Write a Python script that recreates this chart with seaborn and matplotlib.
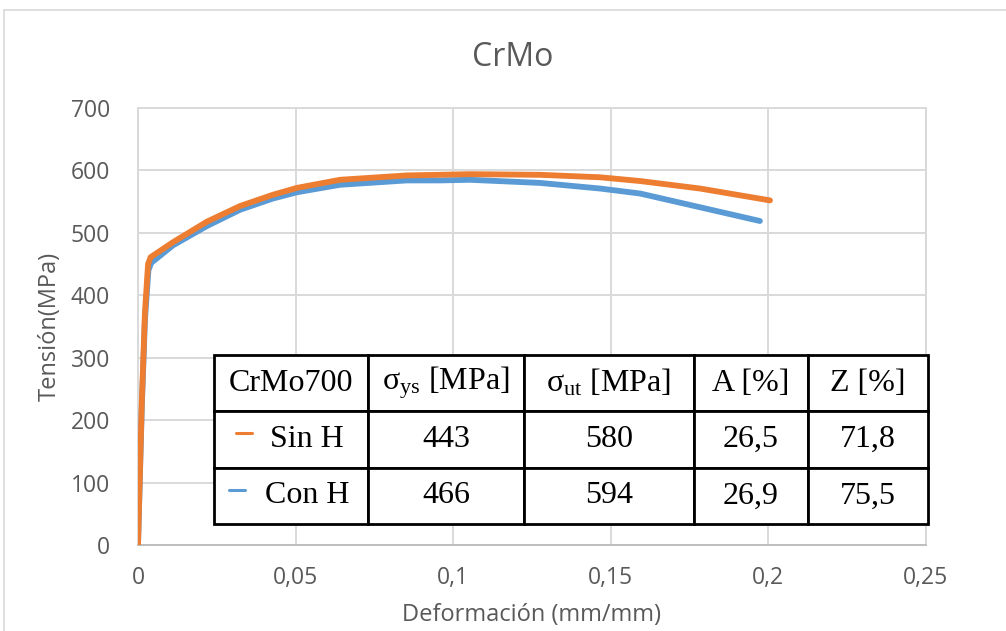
import numpy as np
import pandas as pd
import matplotlib
matplotlib.use("Agg")
import matplotlib.pyplot as plt
from matplotlib.lines import Line2D
import seaborn as sns

# ---- data ----
sin_h_strain = [0, 0.0012, 0.0022, 0.0032, 0.0040, 0.0111, 0.0219, 0.0324, 0.0428, 0.0504,
                0.0641, 0.0853, 0.0958, 0.1053, 0.1275, 0.1466, 0.1593, 0.1783, 0.2005]
sin_h_stress = [0, 228, 372, 450, 461, 485, 518, 543, 561, 572,
                585, 592, 593, 594, 593, 589, 583, 571, 552]
con_h_strain = [0, 0.0012, 0.0022, 0.0033, 0.0042, 0.0111, 0.0219, 0.0324, 0.0428, 0.0504,
                0.0641, 0.0853, 0.0958, 0.1053, 0.1275, 0.1466, 0.1593, 0.1783, 0.1973]
con_h_stress = [0, 220, 360, 440, 452, 480, 511, 537, 555, 565,
                577, 584, 584, 585, 580, 571, 563, 541, 519]

x_ticks = [0, 0.05, 0.1, 0.15, 0.2, 0.25]
x_tick_labels = ["0", "0,05", "0,1", "0,15", "0,2", "0,25"]
y_ticks = [0, 100, 200, 300, 400, 500, 600, 700]

table_header = ["CrMo700", r"σ$_{\mathrm{ys}}$ [MPa]", r"σ$_{\mathrm{ut}}$ [MPa]", "A [%]", "Z [%]"]
table_rows = [["Sin H", "443", "580", "26,5", "71,8"],
              ["Con H", "466", "594", "26,9", "75,5"]]

series_names = ["Con H", "Sin H"]
colors = {"Sin H": "#ED7D31", "Con H": "#5B9BD5"}

df = pd.concat([
    pd.DataFrame({"strain": con_h_strain, "stress": con_h_stress, "serie": "Con H"}),
    pd.DataFrame({"strain": sin_h_strain, "stress": sin_h_stress, "serie": "Sin H"}),
], ignore_index=True)

# ---- style ----
sns.set_theme(style="white")
plt.rcParams["font.family"] = ["Open Sans", "DejaVu Sans"]
plt.rcParams["mathtext.fontset"] = "custom"
plt.rcParams["mathtext.rm"] = "Liberation Serif"
plt.rcParams["mathtext.it"] = "Liberation Serif:italic"

txt = "#595959"
grid = "#D9D9D9"

fig = plt.figure(figsize=(10.06, 6.31), dpi=100)
ax = fig.add_axes([138 / 1006, 1 - 545 / 631, 788 / 1006, 437 / 631])

sns.lineplot(data=df, x="strain", y="stress", hue="serie", hue_order=series_names,
             palette=colors, sort=False, estimator=None, linewidth=4.2, legend=False,
             ax=ax, zorder=3)

ax.set_xlim(0, 0.25)
ax.set_ylim(0, 700)
ax.set_xticks(x_ticks)
ax.set_xticklabels(x_tick_labels)
ax.set_yticks(y_ticks)
ax.tick_params(axis="both", length=0, labelsize=16.5, labelcolor=txt)
ax.tick_params(axis="x", pad=15)
ax.tick_params(axis="y", pad=20)
ax.grid(True, color=grid, linewidth=1.4)
ax.set_axisbelow(True)
for s in ax.spines.values():
    s.set_color(grid)
    s.set_linewidth(1.4)
ax.spines["bottom"].set_color("#BFBFBF")

ax.set_xlabel("Deformación (mm/mm)", fontsize=17, color=txt)
ax.set_ylabel("Tensión(MPa)", fontsize=17, color=txt)
ax.xaxis.set_label_coords(0.5, -0.133)
ax.yaxis.set_label_coords(-0.097, 0.5)

fig.text(513 / 1006, 1 - 57 / 631, "CrMo", fontsize=23, color=txt, ha="center", va="center")

# ---- table ----
cell_text = [table_header] + [["    " + r[0]] + r[1:] for r in table_rows]
col_w = np.array([154, 156, 170, 114, 120], dtype=float)
col_w = list(col_w / col_w.sum())
tbl = ax.table(cellText=cell_text, colWidths=col_w, cellLoc="center",
               bbox=[(214 - 138) / 788, (545 - 524) / 437, 714 / 788, 169 / 437])
tbl.auto_set_font_size(False)
tbl.set_zorder(5)
for (r, c), cell in tbl.get_celld().items():
    cell.set_edgecolor("black")
    cell.set_linewidth(2.0)
    cell.set_facecolor("white")
    cell.get_text().set_fontsize(23)
    cell.get_text().set_fontfamily("Liberation Serif")
    cell.get_text().set_color("black")

# legend keys inside table
for name, y_px, x0, x1 in [("Sin H", 433, 236, 252), ("Con H", 490, 229, 245)]:
    ax.add_line(Line2D([(x0 - 138) / 788, (x1 - 138) / 788],
                       [(545 - y_px) / 437, (545 - y_px) / 437],
                       transform=ax.transAxes, color=colors[name], linewidth=2.2,
                       clip_on=False, zorder=6))

# chart border (partially visible in reference)
fig.add_artist(Line2D([4 / 1006, 4 / 1006], [0, 1 - 10 / 631], transform=fig.transFigure,
                      color=grid, linewidth=1.2))
fig.add_artist(Line2D([4 / 1006, 1], [1 - 10 / 631, 1 - 10 / 631], transform=fig.transFigure,
                      color=grid, linewidth=1.2))

fig.savefig("out.png", dpi=100, facecolor="white")
